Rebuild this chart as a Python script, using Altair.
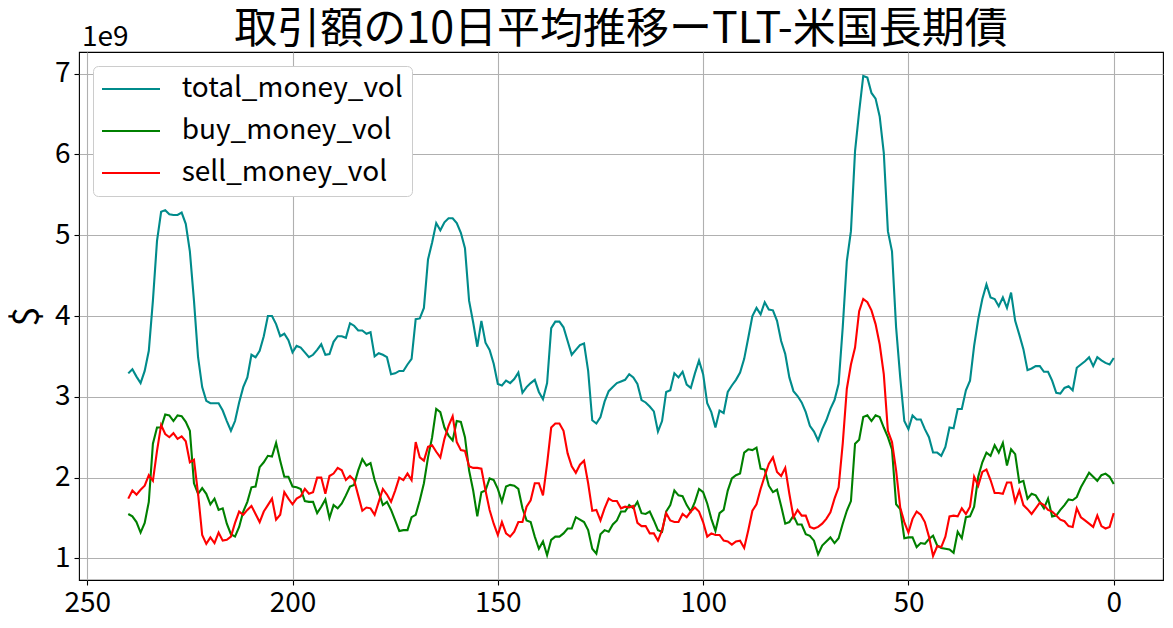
import altair as alt
import pandas as pd

FONT = "Noto Sans CJK JP"

title_text = "取引額の10日平均推移ーTLT-米国長期債"
y_title = "$"
offset_label = "1e9"

days = list(range(240, -1, -1))

series_names = ["total_money_vol", "buy_money_vol", "sell_money_vol"]
series_colors = ["#008b8b", "#008000", "#ff0000"]

x_ticks = [0, 50, 100, 150, 200, 250]
y_ticks = [1, 2, 3, 4, 5, 6, 7]

# values in units of 1e9 dollars, day 240 -> day 0
total_money_vol = [
    3.29, 3.34, 3.25, 3.17, 3.32, 3.57, 4.19, 4.93, 5.29, 5.31,
    5.26, 5.25, 5.25, 5.28, 5.14, 4.80, 4.19, 3.49, 3.12, 2.95,
    2.92, 2.92, 2.92, 2.83, 2.70, 2.58, 2.70, 2.93, 3.12, 3.24,
    3.52, 3.49, 3.57, 3.75, 4.00, 4.00, 3.90, 3.75, 3.78, 3.70,
    3.55, 3.63, 3.61, 3.55, 3.49, 3.52, 3.58, 3.65, 3.52, 3.53,
    3.68, 3.75, 3.75, 3.73, 3.91, 3.88, 3.82, 3.82, 3.78, 3.80,
    3.50, 3.54, 3.52, 3.49, 3.28, 3.29, 3.32, 3.32, 3.40, 3.47,
    3.96, 3.97, 4.10, 4.70, 4.91, 5.15, 5.06, 5.16, 5.21, 5.21,
    5.15, 5.03, 4.84, 4.19, 3.92, 3.62, 3.94, 3.67, 3.58, 3.41,
    3.16, 3.14, 3.20, 3.17, 3.22, 3.30, 3.05, 3.12, 3.17, 3.21,
    3.06, 2.97, 3.17, 3.85, 3.93, 3.93, 3.86, 3.69, 3.52, 3.58,
    3.64, 3.66, 3.32, 2.71, 2.67, 2.75, 2.94, 3.07, 3.12, 3.17,
    3.19, 3.21, 3.28, 3.24, 3.16, 2.96, 2.93, 2.88, 2.82, 2.57,
    2.70, 3.06, 3.08, 3.29, 3.24, 3.31, 3.15, 3.11, 3.29, 3.45,
    3.28, 2.92, 2.81, 2.62, 2.83, 2.80, 3.06, 3.14, 3.21, 3.30,
    3.47, 3.73, 4.00, 4.10, 4.02, 4.17, 4.08, 4.07, 3.94, 3.69,
    3.53, 3.24, 3.07, 3.01, 2.93, 2.81, 2.64, 2.57, 2.46, 2.60,
    2.71, 2.85, 2.96, 3.16, 3.86, 4.68, 5.05, 6.04, 6.53, 6.97,
    6.95, 6.76, 6.69, 6.47, 6.02, 5.05, 4.80, 3.86, 3.24, 2.70,
    2.60, 2.77, 2.72, 2.72, 2.60, 2.50, 2.31, 2.31, 2.27, 2.38,
    2.62, 2.61, 2.85, 2.85, 3.08, 3.20, 3.63, 3.96, 4.21, 4.39,
    4.23, 4.21, 4.12, 4.23, 4.10, 4.29, 3.94, 3.77, 3.59, 3.33,
    3.35, 3.38, 3.38, 3.31, 3.31, 3.20, 3.05, 3.04, 3.11, 3.13,
    3.08, 3.36, 3.40, 3.44, 3.49, 3.38, 3.49, 3.45, 3.42, 3.40,
    3.48,
]

buy_money_vol = [
    1.55, 1.52, 1.45, 1.32, 1.44, 1.70, 2.42, 2.62, 2.62, 2.78,
    2.77, 2.70, 2.77, 2.76, 2.69, 2.58, 1.93, 1.80, 1.87, 1.80,
    1.67, 1.74, 1.60, 1.62, 1.43, 1.30, 1.27, 1.39, 1.58, 1.70,
    1.88, 1.89, 2.13, 2.19, 2.27, 2.26, 2.43, 2.21, 2.01, 2.01,
    1.89, 1.88, 1.86, 1.71, 1.70, 1.70, 1.56, 1.64, 1.73, 1.50,
    1.66, 1.62, 1.68, 1.78, 1.89, 1.91, 2.09, 2.23, 2.15, 2.18,
    1.97, 1.82, 1.66, 1.70, 1.60, 1.47, 1.34, 1.35, 1.35, 1.51,
    1.54, 1.72, 1.93, 2.25, 2.50, 2.85, 2.81, 2.62, 2.52, 2.46,
    2.70, 2.69, 2.50, 2.09, 1.84, 1.52, 1.82, 1.84, 1.99, 1.97,
    1.86, 1.70, 1.89, 1.91, 1.90, 1.86, 1.62, 1.47, 1.45, 1.27,
    1.12, 1.21, 1.04, 1.23, 1.27, 1.27, 1.31, 1.37, 1.37, 1.51,
    1.48, 1.45, 1.35, 1.12, 1.06, 1.30, 1.35, 1.33, 1.42, 1.47,
    1.58, 1.58, 1.66, 1.62, 1.70, 1.56, 1.55, 1.58, 1.47, 1.35,
    1.33, 1.58, 1.66, 1.84, 1.78, 1.77, 1.66, 1.58, 1.70, 1.86,
    1.82, 1.68, 1.49, 1.34, 1.56, 1.60, 1.84, 1.99, 2.03, 2.05,
    2.31, 2.35, 2.34, 2.37, 2.11, 2.10, 1.90, 1.82, 1.85, 1.65,
    1.43, 1.45, 1.53, 1.42, 1.42, 1.30, 1.28, 1.22, 1.05, 1.16,
    1.21, 1.26, 1.19, 1.25, 1.43, 1.59, 1.71, 2.42, 2.47, 2.75,
    2.77, 2.70, 2.77, 2.75, 2.62, 2.50, 2.35, 1.67, 1.61, 1.25,
    1.26, 1.26, 1.14, 1.19, 1.18, 1.24, 1.28, 1.16, 1.13, 1.12,
    1.11, 1.07, 1.33, 1.25, 1.51, 1.52, 1.64, 2.01, 2.19, 2.31,
    2.27, 2.40, 2.31, 2.43, 2.15, 2.35, 2.29, 1.94, 1.96, 1.74,
    1.80, 1.78, 1.70, 1.62, 1.74, 1.52, 1.53, 1.60, 1.66, 1.73,
    1.72, 1.76, 1.88, 1.97, 2.06, 2.01, 1.96, 2.03, 2.05, 2.01,
    1.92,
]

sell_money_vol = [
    1.74, 1.84, 1.79, 1.85, 1.90, 2.03, 1.96, 2.33, 2.65, 2.54,
    2.50, 2.55, 2.48, 2.51, 2.45, 2.19, 2.22, 1.80, 1.29, 1.18,
    1.26, 1.19, 1.32, 1.22, 1.23, 1.27, 1.44, 1.58, 1.54, 1.60,
    1.65, 1.55, 1.45, 1.58, 1.66, 1.74, 1.48, 1.54, 1.82, 1.74,
    1.67, 1.74, 1.77, 1.86, 1.80, 1.82, 2.00, 2.00, 1.80, 2.02,
    2.05, 2.12, 2.09, 1.97, 2.02, 1.97, 1.78, 1.59, 1.63, 1.62,
    1.54, 1.70, 1.86, 1.79, 1.70, 1.84, 2.00, 1.97, 2.05, 1.97,
    2.44, 2.25, 2.21, 2.38, 2.40, 2.32, 2.25, 2.48, 2.64, 2.76,
    2.44, 2.34, 2.33, 2.14, 2.12, 2.12, 2.11, 1.84, 1.60, 1.43,
    1.29, 1.45, 1.31, 1.27, 1.33, 1.45, 1.45, 1.64, 1.72, 1.93,
    1.93, 1.78, 2.17, 2.62, 2.67, 2.67, 2.58, 2.30, 2.14, 2.06,
    2.16, 2.21, 1.93, 1.59, 1.60, 1.47, 1.62, 1.74, 1.71, 1.71,
    1.62, 1.64, 1.63, 1.65, 1.44, 1.40, 1.40, 1.31, 1.31, 1.22,
    1.35, 1.56, 1.47, 1.45, 1.45, 1.55, 1.51, 1.58, 1.63, 1.58,
    1.45, 1.27, 1.31, 1.29, 1.29, 1.22, 1.21, 1.17, 1.21, 1.22,
    1.13, 1.35, 1.59, 1.67, 1.86, 2.02, 2.17, 2.25, 2.07, 2.02,
    2.12, 1.80, 1.51, 1.60, 1.53, 1.53, 1.39, 1.37, 1.39, 1.43,
    1.49, 1.57, 1.74, 1.88, 2.42, 3.10, 3.40, 3.61, 4.06, 4.21,
    4.17, 4.07, 3.90, 3.65, 3.28, 2.58, 2.44, 2.09, 1.63, 1.45,
    1.32, 1.49, 1.58, 1.54, 1.45, 1.27, 1.03, 1.15, 1.14, 1.27,
    1.52, 1.53, 1.52, 1.62, 1.55, 1.64, 2.01, 1.90, 2.07, 2.10,
    1.97, 1.81, 1.81, 1.80, 1.94, 1.94, 1.70, 1.84, 1.66, 1.61,
    1.55, 1.62, 1.69, 1.66, 1.60, 1.58, 1.53, 1.48, 1.46, 1.40,
    1.39, 1.62, 1.51, 1.47, 1.43, 1.39, 1.53, 1.40, 1.37, 1.39,
    1.56,
]

series_values = [total_money_vol, buy_money_vol, sell_money_vol]
rows = []
for name, vals in zip(series_names, series_values):
    for d, v in zip(days, vals):
        rows.append({"day": d, "value": v, "series": name})
df = pd.DataFrame(rows)

# matplotlib-like 5% margins
all_vals = total_money_vol + buy_money_vol + sell_money_vol
vmin, vmax = min(all_vals), max(all_vals)
ymargin = (vmax - vmin) * 0.05
xmargin = (max(days) - min(days)) * 0.05

W, H = 1084, 528

x_enc = alt.X(
    "day:Q",
    scale=alt.Scale(domain=[min(days) - xmargin, max(days) + xmargin], reverse=True, nice=False, zero=False),
    axis=alt.Axis(values=x_ticks, format="d", title=None),
)
y_enc = alt.Y(
    "value:Q",
    scale=alt.Scale(domain=[vmin - ymargin, vmax + ymargin], nice=False, zero=False),
    axis=alt.Axis(values=y_ticks, format="d", title=y_title, titleFontSize=36,
                  titleFont=FONT, titleFontWeight="normal", titleColor="black",
                  titleX=-52, titleY=H / 2, titleAngle=270, titleAlign="center",
                  titleBaseline="middle"),
)
color_enc = alt.Color(
    "series:N",
    scale=alt.Scale(domain=series_names, range=series_colors),
    legend=alt.Legend(
        title=None, orient="none", legendX=14, legendY=14,
        symbolType="M-2.9,0H2.9", symbolSize=400, symbolStrokeWidth=2,
        symbolOffset=15, labelOffset=36.7, labelFontSize=28, labelFont=FONT,
        labelColor="black", labelLimit=500, rowPadding=14, padding=9,
        fillColor="white", strokeColor="#cccccc", cornerRadius=5,
    ),
)

layers = []
for name in series_names:
    layers.append(
        alt.Chart(df).transform_filter(alt.datum.series == name)
        .mark_line(strokeWidth=2.1, clip=True)
        .encode(x=x_enc, y=y_enc, color=color_enc)
    )

offset_text = alt.Chart(pd.DataFrame({"t": [offset_label]})).mark_text(
    align="left", baseline="alphabetic", font=FONT, fontSize=28, color="black"
).encode(text="t:N", x=alt.value(3), y=alt.value(-6))

chart = alt.layer(*layers, offset_text).properties(
    width=W, height=H,
    title=alt.TitleParams(title_text, font=FONT, fontSize=43, fontWeight="normal",
                          color="black", anchor="middle", frame="group", offset=-28),
    autosize=alt.AutoSizeParams(type="none"),
    padding={"left": 71, "top": 44, "right": 2, "bottom": 40},
).configure_view(
    stroke="black", strokeWidth=1.1
).configure_axis(
    domain=False, grid=True, gridColor="#b0b0b0", gridWidth=1.1,
    ticks=True, tickColor="black", tickSize=5, tickWidth=1.1,
    labelFont=FONT, labelFontSize=28, labelColor="black", labelPadding=4,
)

chart.save("out.html", embed_options={"renderer": "svg", "actions": False})
